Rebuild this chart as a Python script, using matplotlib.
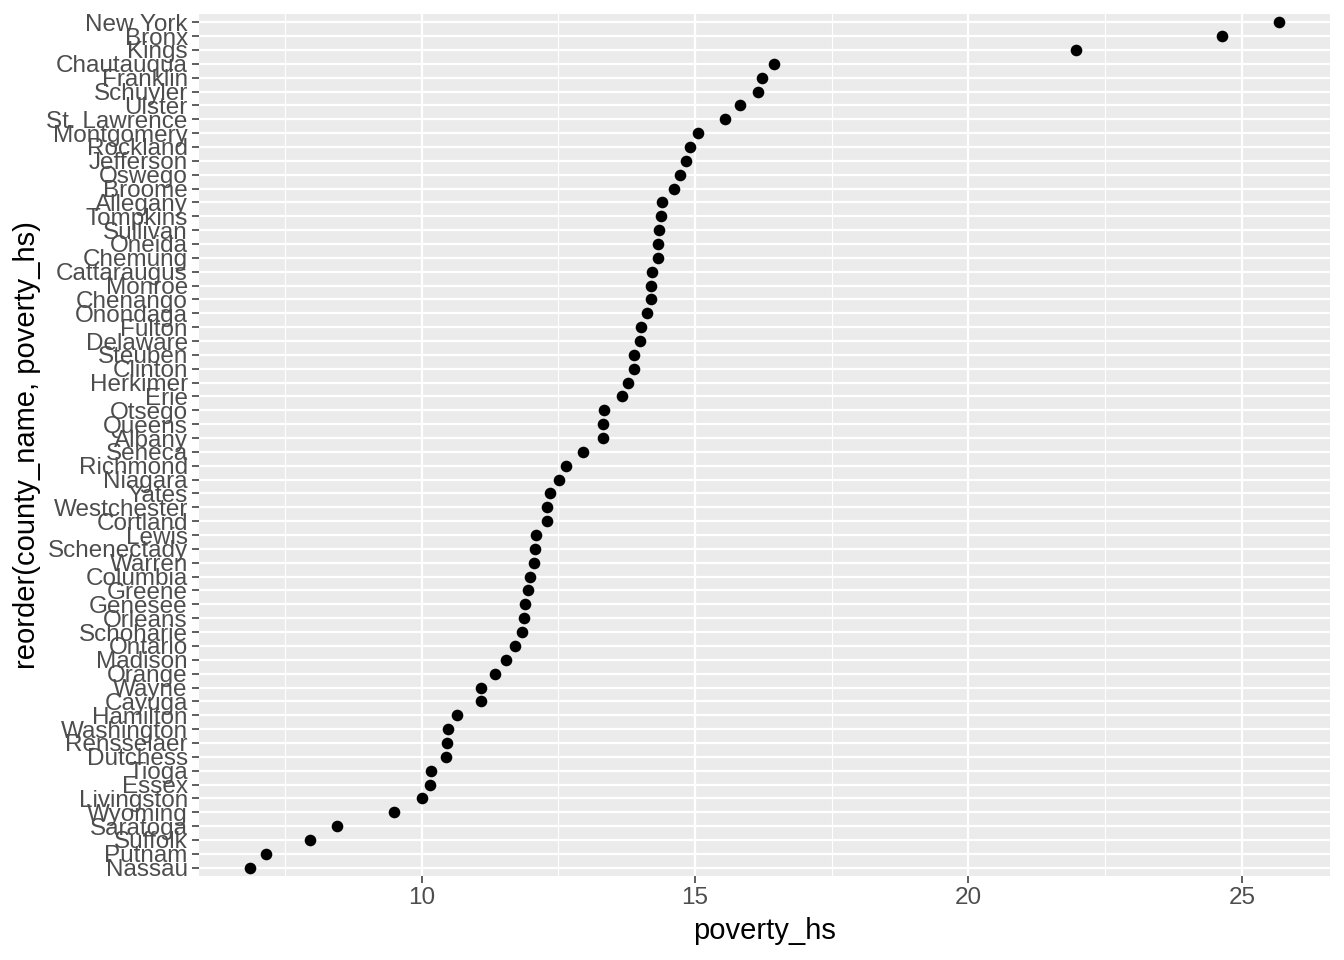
import numpy as np
import matplotlib.pyplot as plt

# counties ordered from lowest to highest poverty_hs (bottom to top)
county_name = [
    "Nassau", "Putnam", "Suffolk", "Saratoga", "Wyoming", "Livingston",
    "Essex", "Tioga", "Dutchess", "Rensselaer", "Washington", "Hamilton",
    "Cayuga", "Wayne", "Orange", "Madison", "Ontario", "Schoharie",
    "Orleans", "Genesee", "Greene", "Columbia", "Warren", "Schenectady",
    "Lewis", "Cortland", "Westchester", "Yates", "Niagara", "Richmond",
    "Seneca", "Albany", "Queens", "Otsego", "Erie", "Herkimer", "Clinton",
    "Steuben", "Delaware", "Fulton", "Onondaga", "Chenango", "Monroe",
    "Cattaraugus", "Chemung", "Oneida", "Sullivan", "Tompkins", "Allegany",
    "Broome", "Oswego", "Jefferson", "Rockland", "Montgomery",
    "St. Lawrence", "Ulster", "Schuyler", "Franklin", "Chautauqua",
    "Kings", "Bronx", "New York",
]
poverty_hs = [
    6.87, 7.15, 7.97, 8.46, 9.49, 10.00,
    10.15, 10.18, 10.44, 10.46, 10.48, 10.64,
    11.08, 11.08, 11.35, 11.55, 11.70, 11.83,
    11.88, 11.90, 11.94, 11.99, 12.05, 12.07,
    12.10, 12.29, 12.29, 12.34, 12.52, 12.65,
    12.96, 13.31, 13.31, 13.33, 13.66, 13.78, 13.88,
    13.89, 14.00, 14.02, 14.13, 14.20, 14.20,
    14.22, 14.33, 14.33, 14.35, 14.37, 14.39,
    14.61, 14.73, 14.83, 14.90, 15.06,
    15.54, 15.83, 16.16, 16.23, 16.44,
    21.97, 24.64, 25.67,
]
x_ticks = [10, 15, 20, 25]

plt.rcParams['font.family'] = ['Liberation Sans', 'DejaVu Sans']

fig = plt.figure(figsize=(13.44, 9.6), dpi=100)
ax = fig.add_axes([0.148, 0.0875, 0.8416, 0.898])

pos = np.arange(len(county_name))
ax.set_facecolor("#EBEBEB")
ax.scatter(poverty_hs, pos, s=70, color="black", zorder=3, linewidths=0)

# ggplot-style expansion
lo, hi = min(poverty_hs), max(poverty_hs)
pad = (hi - lo) * 0.05
ax.set_xlim(lo - pad, hi + pad)
ax.set_ylim(-0.6, len(county_name) - 1 + 0.6)

ax.set_xticks(x_ticks)
ax.set_xticks([7.5, 12.5, 17.5, 22.5], minor=True)
ax.set_yticks(pos)
ax.set_yticklabels(county_name)

ax.grid(which="major", color="white", linewidth=1.6, zorder=1)
ax.grid(which="minor", axis="x", color="white", linewidth=0.8, zorder=1)
ax.tick_params(which="major", length=5, width=1.1, color="#333333",
               labelsize=17.5, labelcolor="#4D4D4D", pad=3)
ax.tick_params(which="minor", length=0)
for s in ax.spines.values():
    s.set_visible(False)

ax.set_xlabel("poverty_hs", fontsize=21, labelpad=6)
ax.set_ylabel("reorder(county_name, poverty_hs)", fontsize=21, labelpad=4)

fig.savefig("out.png", dpi=100)
